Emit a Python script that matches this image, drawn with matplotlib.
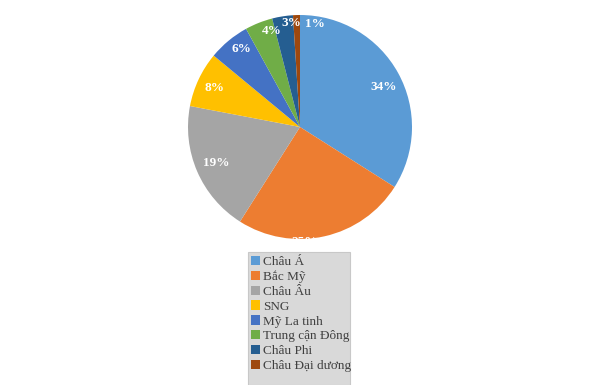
import matplotlib.pyplot as plt
from matplotlib.patches import Rectangle
import numpy as np

regions = ["Châu Á", "Bắc Mỹ", "Châu Âu", "SNG", "Mỹ La tinh",
           "Trung cận Đông", "Châu Phi", "Châu Đại dương"]
shares = [34, 25, 19, 8, 6, 4, 3, 1]
colors = ["#5B9BD5", "#ED7D31", "#A5A5A5", "#FFC000", "#4472C4",
          "#70AD47", "#255E91", "#9E480E"]

# radial position of each percentage label (fraction of radius)
label_r = [0.83, 1.03, 0.81, 0.84, 0.87, 0.89, 0.93, 0.93]
# small angular nudges (degrees) for labels crowded near the top
label_shift = [-3, -10, 0, 1, -3, -5, -4, -10]

plt.rcParams['font.family'] = ['Liberation Serif', 'DejaVu Serif']

fig = plt.figure(figsize=(6, 3.85), dpi=100)
ax = fig.add_axes([188 / 600, 146 / 385, 224 / 600, 224 / 385])

wedges, _ = ax.pie(shares, colors=colors, startangle=90, counterclock=False,
                   wedgeprops=dict(linewidth=0))
ax.set_xlim(-1, 1)
ax.set_ylim(-1, 1)
ax.set_aspect('equal')

for w, v, r, s in zip(wedges, shares, label_r, label_shift):
    mid = np.deg2rad((w.theta1 + w.theta2) / 2 + s)
    ax.text(r * np.cos(mid), r * np.sin(mid), f"{v}%", color='white',
            fontsize=9.5, fontweight='bold', ha='center', va='center')

# legend panel
fig.patches.append(Rectangle((248 / 600, 0), 102 / 600, (385 - 252) / 385,
                             transform=fig.transFigure, facecolor='#d9d9d9',
                             edgecolor='#c8c8c8', linewidth=0.8, zorder=0))
leg = fig.legend(wedges, regions, loc='upper left',
                 bbox_to_anchor=(240 / 600, 1 - 245 / 385),
                 frameon=False, fontsize=9.5, handlelength=0.7,
                 handleheight=0.7, handletextpad=0.25, labelspacing=0.2,
                 borderpad=0.3, labelcolor='#404040')

fig.savefig('out.png', dpi=100)
